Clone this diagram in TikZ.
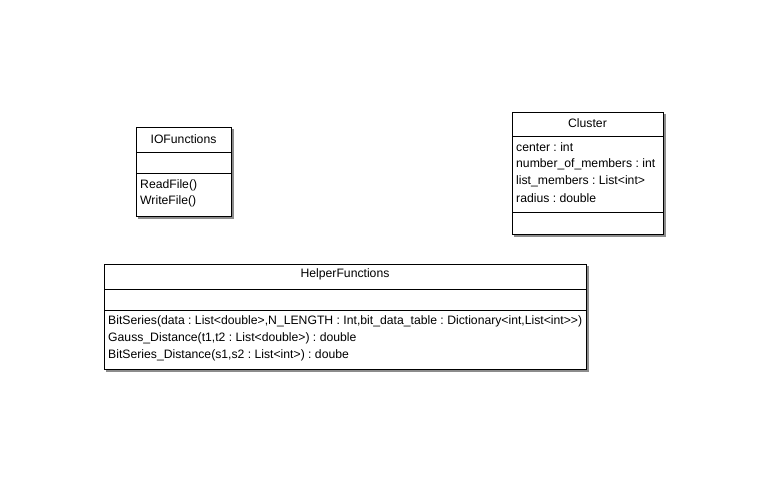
\documentclass[tikz,border=0pt]{standalone}
\usepackage{fontspec}
\setmainfont{Liberation Sans}
\frenchspacing
\begin{document}
\begin{tikzpicture}[x=1pt,y=-1pt,
  classbox/.style={draw=black,line width=0.8pt,fill=white,inner sep=0pt,
    anchor=north west},
  shadowline/.style={draw=black!45,line width=1.2pt},
  divider/.style={line width=0.8pt},
  member/.style={anchor=west,inner sep=0pt,font=\fontsize{12.2}{14}\selectfont},
  title/.style={anchor=center,inner sep=0pt,font=\fontsize{12.2}{14}\selectfont}]
\useasboundingbox (0,0) rectangle (783,481);

% IOFunctions class
\draw[shadowline] (233,129) -- (233,218) -- (138,218);
\node[classbox,minimum width=95pt,minimum height=89pt] (io) at (136,127) {};
\draw[divider] (136,152) -- (231,152);
\draw[divider] (136,173) -- (231,173);
\node[title] (iot) at (183.5,139) {IOFunctions};
\node[member] (io1) at (140,185) {ReadFile()};
\node[member] (io2) at (140,201) {WriteFile()};

% Cluster class
\draw[shadowline] (665,114) -- (665,236) -- (514,236);
\node[classbox,minimum width=151pt,minimum height=122pt] (cl) at (512,112) {};
\draw[divider] (512,136) -- (663,136);
\draw[divider] (512,212) -- (663,212);
\node[title] (clt) at (587.5,123) {Cluster};
\node[member] (cl1) at (516,147) {center : int};
\node[member] (cl2) at (516,164) {number\_of\_members : int};
\node[member] (cl3) at (516,181) {list\_members : List<int>};
\node[member] (cl4) at (516,198) {radius : double};

% HelperFunctions class
\draw[shadowline] (588,266) -- (588,371) -- (106,371);
\node[classbox,minimum width=482pt,minimum height=105pt] (hf) at (104,264) {};
\draw[divider] (104,289) -- (586,289);
\draw[divider] (104,310) -- (586,310);
\node[title] (hft) at (345,274) {HelperFunctions};
\node[member] (hf1) at (108,321) {BitSeries(data : List<double>,N\_LENGTH : Int,bit\_data\_table : Dictionary<int,List<int>{}>)};
\node[member] (hf2) at (108,338) {Gauss\_Distance(t1,t2 : List<double>) : double};
\node[member] (hf3) at (108,355) {BitSeries\_Distance(s1,s2 : List<int>) : doube};
\end{tikzpicture}
\end{document}
